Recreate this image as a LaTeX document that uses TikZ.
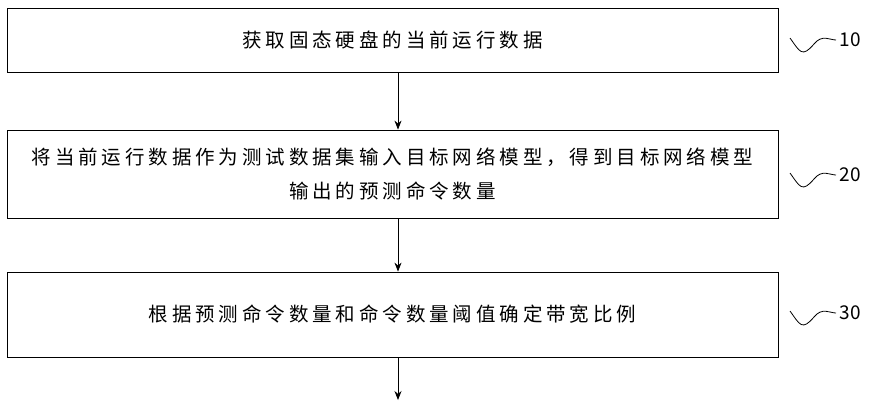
\documentclass[tikz,border=0pt]{standalone}
\usepackage{fontspec}
\setmainfont{Noto Sans CJK SC}
\newfontfamily\stepfont[LetterSpace=20]{Noto Sans CJK SC}
\usetikzlibrary{positioning,arrows.meta}

\begin{document}
\begin{tikzpicture}[x=1pt,y=1pt,
    stepbox/.style = {shape=rectangle, draw, thick, align=center,
    font=\stepfont\fontsize{19.5}{34}\selectfont, minimum width=771pt, inner sep=0pt},
    line/.style={draw, thick, -{Stealth[length=9pt,width=7pt]}},
    tag/.style={font=\fontsize{19}{20}\selectfont, anchor=west},
    wave/.style={draw, thick}]

    \useasboundingbox (0,0) rectangle (869,-400);

    \node[stepbox, minimum height=64pt] (get) at (392.5,-40) {获取固态硬盘的当前运行数据};
    \node[stepbox, minimum height=88pt] (pred) at (392.5,-174)
      {将当前运行数据作为测试数据集输入目标网络模型，得到目标网络模型\\输出的预测命令数量};
    \node[stepbox, minimum height=85pt] (ratio) at (392.5,-314.5) {根据预测命令数量和命令数量阈值确定带宽比例};
    \coordinate (out) at (398,-400);

    \draw[line] (get.south -| out) -- (pred.north -| out);
    \draw[line] (pred.south -| out) -- (ratio.north -| out);
    \draw[line] (ratio.south -| out) -- (out);

    % step labels with wavy leaders
    \foreach \name/\num/\y in {a/10/-40, b/20/-175, c/30/-313} {
      \node[tag] (lab\name) at (836,\y) {\num};
      \coordinate (w\name) at (790,\y+2);
      \draw[wave] (w\name) .. controls ++(10,-14) and ++(-12,-14) .. ++(24,-6)
                  .. controls ++(8,10) and ++(-6,0) .. (lab\name.west);
    }
  \end{tikzpicture}
\end{document}
